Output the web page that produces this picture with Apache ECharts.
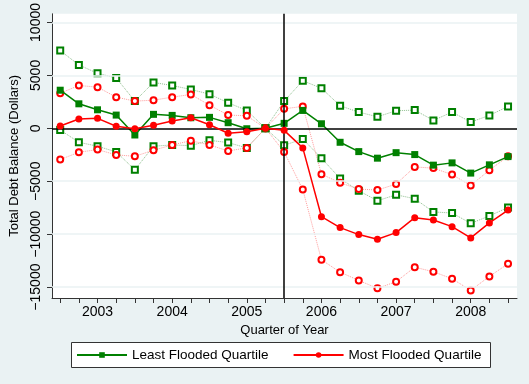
<!DOCTYPE html>
<html>
<head>
<meta charset="utf-8">
<script src="https://cdn.jsdelivr.net/npm/echarts@6/dist/echarts.min.js"></script>
<style>
html,body{margin:0;padding:0;background:#EAF2F3;}
#chart{width:529px;height:384px;}
</style>
</head>
<body>
<div id="chart"></div>
<script>
// Quarters (year + fraction), tick labels
var quarters = [2002.5, 2002.75, 2003, 2003.25, 2003.5, 2003.75, 2004, 2004.25, 2004.5, 2004.75, 2005, 2005.25, 2005.5, 2005.75, 2006, 2006.25, 2006.5, 2006.75, 2007, 2007.25, 2007.5, 2007.75, 2008, 2008.25, 2008.5];
var yearTicks = [2003, 2004, 2005, 2006, 2007, 2008];
var yTicks = [-15000, -10000, -5000, 0, 5000, 10000];
var eventQuarter = 2005.5;

// Least flooded quartile: mean and confidence bounds
var leastMean  = [3600, 2315, 1750, 1250, -630, 1320, 1220, 1000, 1035, 530, -40, 0, 470, 1690, 430, -1320, -2200, -2820, -2300, -2480, -3480, -3265, -4230, -3450, -2670];
var leastUpper = [7340, 5985, 5200, 4760, 2570, 4330, 4045, 3670, 3230, 2410, 1690, 0, 2570, 4490, 3790, 2130, 1530, 1090, 1660, 1720, 750, 1530, 590, 1220, 2070];
var leastLower = [-160, -1320, -1690, -2230, -3920, -1690, -1570, -1640, -1130, -1350, -1850, 0, -1600, -1010, -2820, -4740, -5900, -6840, -6280, -6650, -7900, -8000, -8980, -8280, -7470];

// Most flooded quartile: mean and confidence bounds
var mostMean  = [215, 875, 940, 190, -40, 280, 690, 1000, 340, -470, -320, 0, -190, -1850, -8350, -9380, -10040, -10480, -9850, -8440, -8660, -9290, -10350, -8940, -7720];
var mostUpper = [3320, 4045, 3890, 2945, 2570, 2660, 2945, 3200, 2190, 1250, 1185, 0, 1845, 2070, -4330, -5150, -5740, -5830, -5270, -3650, -3760, -4370, -5400, -3950, -2650];
var mostLower = [-2950, -2260, -2010, -2510, -2640, -2070, -1570, -1170, -1570, -2140, -1850, 0, -2230, -5780, -12420, -13590, -14370, -15120, -14490, -13120, -13550, -14210, -15310, -13990, -12800];

function pairs(vals){ return quarters.map(function(q,i){ return [q, vals[i]]; }); }

var GREEN = '#008000', RED = '#ff0000';
var FONT = 'Liberation Sans';

function ciSeries(name, vals, color, lineColor, sym){
  return {
    name: name, type: 'line', data: pairs(vals),
    symbol: sym, symbolSize: 6,
    lineStyle: {color: lineColor, width: 1, type: 'dotted'},
    itemStyle: {color: color, borderColor: color, borderWidth: 1.4},
    z: 3, silent: true
  };
}

var chart = echarts.init(document.getElementById('chart'), null, {renderer: 'canvas'});
chart.setOption({
  backgroundColor: '#EAF2F3',
  animation: false,
  textStyle: {fontFamily: FONT},
  graphic: [{
    type: 'rect', left: 71, top: 342, shape: {width: 419, height: 25},
    style: {fill: '#fff', stroke: '#333', lineWidth: 1}, z: -1
  }],
  legend: {
    data: ['Least Flooded Quartile', 'Most Flooded Quartile'],
    left: 76, top: 348, padding: 0,
    itemWidth: 50, itemHeight: 7, itemGap: 24,
    textStyle: {fontFamily: FONT, fontSize: 13.5, color: '#000'}
  },
  grid: {left: 52, right: 12, top: 12, bottom: 86, show: true, backgroundColor: '#fff', borderWidth: 0},
  xAxis: {
    type: 'value', min: 2002.39, max: 2008.62,
    name: 'Quarter of Year', nameLocation: 'middle', nameGap: 19,
    nameTextStyle: {fontFamily: FONT, fontSize: 13, color: '#000'},
    axisLine: {show: true, onZero: false, lineStyle: {color: '#333', width: 1}},
    axisTick: {show: true, length: 5, customValues: quarters, lineStyle: {color: '#333'}},
    axisLabel: {customValues: yearTicks, margin: 7, fontFamily: FONT, fontSize: 14, color: '#000',
      formatter: function(v){ return String(v); }},
    splitLine: {show: false}
  },
  yAxis: {
    type: 'value', min: -16030, max: 10820,
    name: 'Total Debt Balance (Dollars)', nameLocation: 'middle', nameGap: 24,
    nameTextStyle: {fontFamily: FONT, fontSize: 13, color: '#000'},
    axisLine: {show: true, onZero: false, lineStyle: {color: '#333', width: 1}},
    axisTick: {show: true, length: 5, customValues: yTicks, lineStyle: {color: '#333'}},
    axisLabel: {customValues: yTicks, rotate: 90, margin: 9, fontFamily: FONT, fontSize: 14, color: '#000',
      formatter: function(v){ return String(v).replace('-', '\u2212'); }},
    splitLine: {show: false}
  },
  series: [
    {
      name: 'grid', type: 'line', data: [], silent: true, z: 1,
      markLine: {
        silent: true, symbol: 'none', label: {show: false},
        lineStyle: {color: '#EAF2F3', width: 1.5, type: 'solid'},
        data: yTicks.filter(function(v){ return v !== 0; }).map(function(v){ return {yAxis: v}; })
      }
    },
    {
      name: 'refs', type: 'line', data: [], silent: true, z: 2,
      markLine: {
        silent: true, symbol: 'none', label: {show: false},
        lineStyle: {color: '#000', width: 1.5, type: 'solid'},
        data: [{yAxis: 0}, {xAxis: eventQuarter}]
      }
    },
    ciSeries('Least Upper', leastUpper, GREEN, '#8fbf8f', 'emptyRect'),
    ciSeries('Least Lower', leastLower, GREEN, '#8fbf8f', 'emptyRect'),
    ciSeries('Most Upper', mostUpper, RED, '#ff9c9c', 'emptyCircle'),
    ciSeries('Most Lower', mostLower, RED, '#ff9c9c', 'emptyCircle'),
    {
      name: 'Least Flooded Quartile', type: 'line', data: pairs(leastMean),
      symbol: 'rect', symbolSize: 7,
      lineStyle: {color: GREEN, width: 1.5},
      itemStyle: {color: GREEN}, z: 4
    },
    {
      name: 'Most Flooded Quartile', type: 'line', data: pairs(mostMean),
      symbol: 'circle', symbolSize: 7,
      lineStyle: {color: RED, width: 1.5},
      itemStyle: {color: RED}, z: 5
    }
  ]
});
</script>
</body>
</html>
